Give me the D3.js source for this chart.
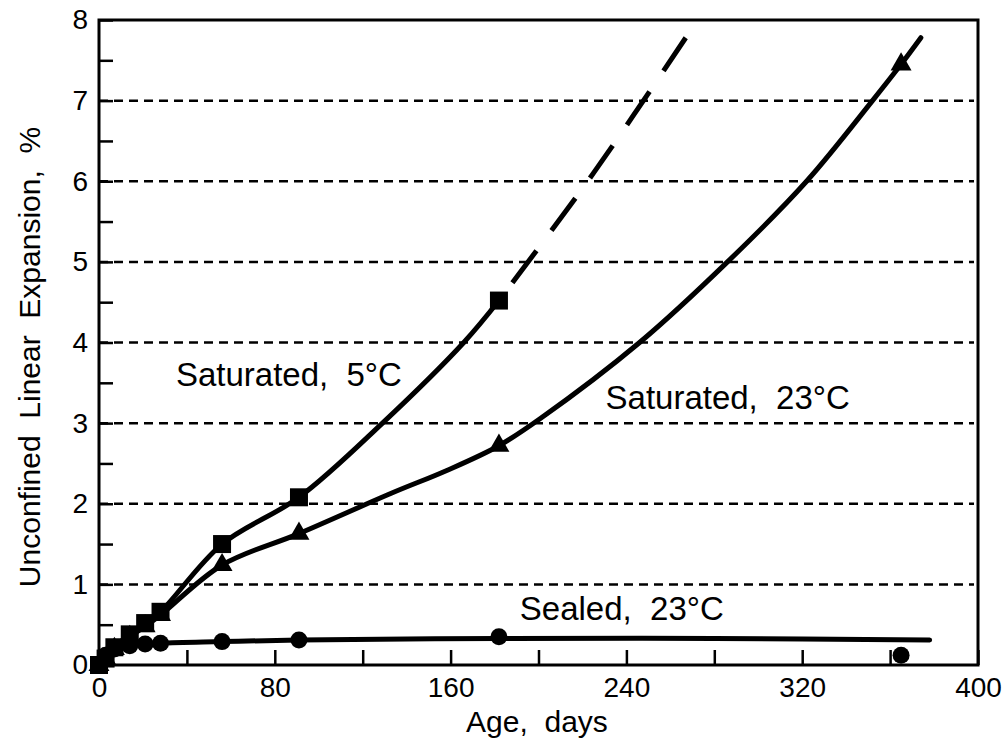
<!DOCTYPE html>
<html>
<head>
<meta charset="utf-8">
<script src="https://cdn.jsdelivr.net/npm/d3@7"></script>
<style>
  html, body { margin: 0; padding: 0; background: #fff; }
  svg { display: block; }
  text { font-family: "Liberation Sans", Arial, Helvetica, sans-serif; fill: #000; }
</style>
</head>
<body>
<svg id="chart" width="1005" height="748"></svg>
<script>
// ---- Data ----
const xTickValues = [0, 40, 80, 120, 160, 200, 240, 280, 320, 360, 400];
const xTickLabels = ["0", "", "80", "", "160", "", "240", "", "320", "", "400"];
const yTickValues = [0, 0.5, 1, 1.5, 2, 2.5, 3, 3.5, 4, 4.5, 5, 5.5, 6, 6.5, 7, 7.5, 8];
const yGridValues = [1, 2, 3, 4, 5, 6, 7];

// Measured points (age in days, expansion in %)
const sat5Days = [0, 3, 7, 14, 21, 28, 56, 91, 182];
const sat5Vals = [0, 0.08, 0.22, 0.38, 0.52, 0.66, 1.5, 2.08, 4.52];
const sat23Days = [0, 3, 7, 14, 21, 28, 56, 91, 182, 365];
const sat23Vals = [0, 0.08, 0.2, 0.35, 0.48, 0.62, 1.24, 1.63, 2.72, 7.45];
const sealDays = [0, 3, 7, 14, 21, 28, 56, 91, 182, 365];
const sealVals = [0, 0.12, 0.2, 0.24, 0.26, 0.27, 0.29, 0.31, 0.35, 0.12];

// Trend curves drawn through the data
const sat5TrendDays = [0, 7, 14, 21, 28, 56, 91, 129, 166, 182];
const sat5TrendVals = [0, 0.22, 0.38, 0.52, 0.66, 1.5, 2.08, 3.0, 4.0, 4.52];
// projected continuation, listed from its far end back to day 182
const sat5ExtDays = [267, 225, 182];
const sat5ExtVals = [7.78, 6.1, 4.52];
const sat23TrendDays = [0, 7, 14, 21, 28, 56, 91, 133, 158, 182, 201, 246, 286, 322, 352, 365, 374];
const sat23TrendVals = [0, 0.2, 0.35, 0.48, 0.62, 1.24, 1.63, 2.13, 2.41, 2.72, 3.06, 4.0, 5.0, 6.0, 7.0, 7.45, 7.78];
const sealTrendDays = [0, 3, 7, 14, 28, 56, 91, 182, 280, 378];
const sealTrendVals = [0, 0.12, 0.2, 0.24, 0.27, 0.29, 0.31, 0.33, 0.33, 0.31];

const seriesLabels = [
  { text: "Saturated,  5°C", day: 35, val: 3.46 },
  { text: "Saturated,  23°C", day: 230.5, val: 3.17 },
  { text: "Sealed,  23°C", day: 191.5, val: 0.56 }
];

// ---- Layout ----
const svg = d3.select("#chart");
const plotL = 99, plotR = 978, plotT = 20, plotB = 665;
const x = d3.scaleLinear().domain([0, 400]).range([plotL, plotR]);
const y = d3.scaleLinear().domain([0, 8]).range([plotB, plotT]);

const zip = (a, b) => a.map((d, i) => [d, b[i]]);
const line = d3.line().x(d => x(d[0])).y(d => y(d[1])).curve(d3.curveCatmullRom.alpha(0.5));

// Dashed horizontal grid
svg.append("g").selectAll("line").data(yGridValues).join("line")
  .attr("x1", plotL).attr("x2", plotR - 4)
  .attr("y1", d => y(d)).attr("y2", d => y(d))
  .attr("stroke", "#000").attr("stroke-width", 2.5)
  .attr("stroke-dasharray", "9,6");

// Axes with inward ticks
const yAxis = d3.axisLeft(y).tickValues(yTickValues).tickSize(-14).tickPadding(11)
  .tickFormat(d => Number.isInteger(d) ? String(d) : "");
const gy = svg.append("g").attr("transform", `translate(${plotL},0)`).call(yAxis);

const xAxis = d3.axisBottom(x).tickValues(xTickValues).tickSize(-15).tickPadding(12)
  .tickFormat((d, i) => xTickLabels[i]);
const gx = svg.append("g").attr("transform", `translate(0,${plotB})`).call(xAxis);

[gx, gy].forEach(g => {
  g.select(".domain").remove();
  g.selectAll(".tick line").attr("stroke", "#000").attr("stroke-width", 2.5);
  g.selectAll(".tick text").attr("font-size", 28)
    .attr("font-family", "'Liberation Sans', Arial, sans-serif").attr("fill", "#000");
});

// Frame
svg.append("rect")
  .attr("x", plotL).attr("y", plotT).attr("width", plotR - plotL).attr("height", plotB - plotT)
  .attr("fill", "none").attr("stroke", "#000").attr("stroke-width", 3);

// Curves
const curves = svg.append("g").attr("fill", "none").attr("stroke", "#000")
  .attr("stroke-width", 5).attr("stroke-linecap", "round").attr("stroke-linejoin", "round");
curves.append("path").attr("d", line(zip(sat5TrendDays, sat5TrendVals)));
curves.append("path").attr("d", line(zip(sat5ExtDays, sat5ExtVals)))
  .attr("stroke-dasharray", "40,25").attr("stroke-linecap", "butt");
curves.append("path").attr("d", line(zip(sat23TrendDays, sat23TrendVals)));
curves.append("path").attr("d", line(zip(sealTrendDays, sealTrendVals)));

// Markers
const sq = 18;
svg.append("g").selectAll("rect").data(zip(sat5Days, sat5Vals)).join("rect")
  .attr("x", d => x(d[0]) - sq / 2).attr("y", d => y(d[1]) - sq / 2)
  .attr("width", sq).attr("height", sq).attr("fill", "#000");

const tri = d3.symbol().type(d3.symbolTriangle).size(190);
svg.append("g").selectAll("path").data(zip(sat23Days, sat23Vals)).join("path")
  .attr("transform", d => `translate(${x(d[0])},${y(d[1])})`)
  .attr("d", tri).attr("fill", "#000");

svg.append("g").selectAll("circle").data(zip(sealDays, sealVals)).join("circle")
  .attr("cx", d => x(d[0])).attr("cy", d => y(d[1])).attr("r", 8.5).attr("fill", "#000");

// Series labels
svg.append("g").selectAll("text").data(seriesLabels).join("text")
  .attr("x", d => x(d.day)).attr("y", d => y(d.val))
  .attr("font-size", 33)
  .style("white-space", "pre")
  .text(d => d.text);

// Axis titles
svg.append("text")
  .attr("x", 537).attr("y", 732).attr("text-anchor", "middle")
  .attr("font-size", 30).style("white-space", "pre")
  .text("Age,  days");

svg.append("text")
  .attr("transform", "translate(40,357) rotate(-90)")
  .attr("text-anchor", "middle").attr("font-size", 30).style("white-space", "pre")
  .text("Unconfined  Linear  Expansion,  %");
</script>
</body>
</html>
